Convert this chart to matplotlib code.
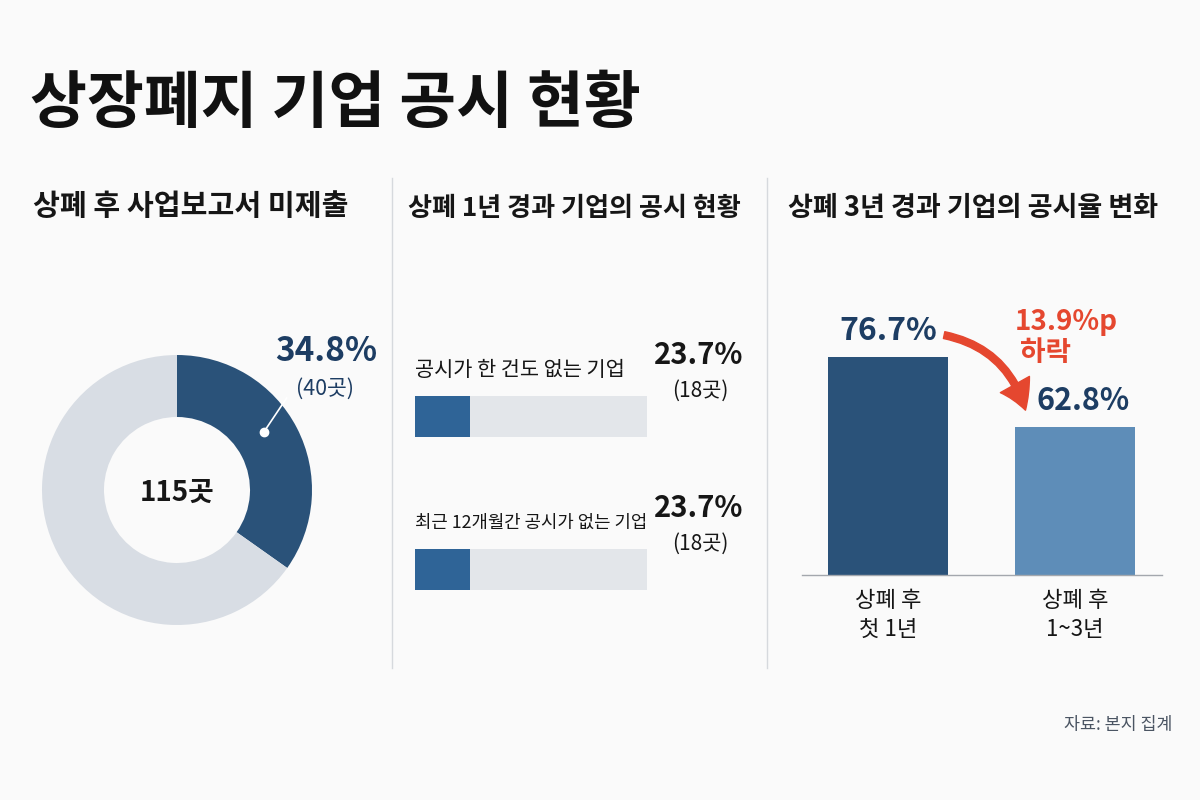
import matplotlib.pyplot as plt
from matplotlib.lines import Line2D
from matplotlib.patches import FancyArrowPatch
import numpy as np

plt.rcParams['font.family'] = ['Noto Sans CJK KR', 'DejaVu Sans']

W, H = 1200, 800
BG = '#FAFAFA'
NAVY = '#2A5279'
NAVY_TXT = '#1D3D63'
BLUE = '#2F6497'
LIGHT_BLUE = '#5E8DB8'
TRACK = '#E3E6EA'
GREY_RING = '#D8DDE4'
RED = '#E5472F'
INK = '#161616'

# --- data ---
total_firms = 115
unfiled_share = 34.8
unfiled_count = 40

progress_labels = ['공시가 한 건도 없는 기업', '최근 12개월간 공시가 없는 기업']
progress_share = [23.7, 23.7]
progress_count = [18, 18]

period_labels = ['상폐 후\n첫 1년', '상폐 후\n1~3년']
disclosure_rate = [76.7, 62.8]

fig = plt.figure(figsize=(12, 8), dpi=100, facecolor=BG)


def px_axes(left, top, width, height):
    ax = fig.add_axes([left / W, 1 - (top + height) / H, width / W, height / H])
    ax.set_facecolor('none')
    return ax


def ftext(x, y, s, **kw):
    return fig.text(x / W, 1 - y / H, s, **kw)


# titles
ftext(30, 103, '상장폐지 기업 공시 현황', fontsize=44.5, fontweight='bold', color='#111111', va='center')
ftext(33, 206, '상폐 후 사업보고서 미제출', fontsize=21, fontweight='bold', color=INK, va='center')
ftext(408, 208, '상폐 1년 경과 기업의 공시 현황', fontsize=18.8, fontweight='bold', color=INK, va='center')
ftext(788, 208, '상폐 3년 경과 기업의 공시율 변화', fontsize=19.5, fontweight='bold', color=INK, va='center')

for xd in (392, 767):
    fig.add_artist(Line2D([xd / W, xd / W], [1 - 178 / H, 1 - 668 / H],
                          transform=fig.transFigure, color='#D6D9DD', lw=1))

# --- panel 1: donut ---
R = 135
ax1 = px_axes(177 - 145, 490 - 145, 290, 290)
ax1.pie([unfiled_share, 100 - unfiled_share], colors=[NAVY, GREY_RING], startangle=90,
        counterclock=False, radius=1, wedgeprops=dict(width=62 / R, linewidth=0))
ax1.set_xlim(-145 / R, 145 / R)
ax1.set_ylim(-145 / R, 145 / R)
ax1.set_aspect('equal')
ax1.axis('off')
ax1.text(0, -0.02, f'{total_firms}곳', ha='center', va='center', fontsize=20,
         fontweight='bold', color=INK)

mid = np.deg2rad(90 - unfiled_share * 3.6 * 0.45)
dot = (0.77 * np.cos(mid), 0.77 * np.sin(mid))
end_ang = np.deg2rad(40)
end = (1.06 * np.cos(end_ang), 1.06 * np.sin(end_ang))
ax1.plot([dot[0], end[0]], [dot[1], end[1]], color='white', lw=1.2)
ax1.plot(*dot, 'o', color='white', ms=6)

ftext(326, 352, f'{unfiled_share}%', fontsize=24, fontweight='bold', color=NAVY_TXT,
      ha='center', va='center')
ftext(325, 389, f'({unfiled_count}곳)', fontsize=15.5, color=NAVY_TXT, ha='center', va='center')

# --- panel 2: progress bars ---
track_tops = [396, 549]
for i, top in enumerate(track_tops):
    ax = px_axes(415, top, 232, 41)
    ax.barh(0, 100, height=1, color=TRACK)
    ax.barh(0, progress_share[i], height=1, color=BLUE)
    ax.set_xlim(0, 100)
    ax.set_ylim(-0.5, 0.5)
    ax.axis('off')
    ftext(415, top - 26, progress_labels[i], fontsize=15 if i == 0 else 12.8,
          color=INK, va='center')
    ftext(743, top - 41, f'{progress_share[i]}%', fontsize=21, fontweight='bold',
          color=INK, ha='right', va='center')
    ftext(700, top - 5, f'({progress_count[i]}곳)', fontsize=15, color=INK,
          ha='center', va='center')

# --- panel 3: bar chart ---
ax3 = px_axes(802, 290, 360, 285)
x = np.arange(len(disclosure_rate))
ax3.bar(x, disclosure_rate, width=0.64, color=[NAVY, LIGHT_BLUE])
ax3.set_xlim(-0.46, 1.465)
ax3.set_ylim(33.4, 33.4 + 285 / 5.04)
for s in ('top', 'right', 'left'):
    ax3.spines[s].set_visible(False)
ax3.spines['bottom'].set_color('#A3A7AD')
ax3.spines['bottom'].set_linewidth(1)
ax3.set_yticks([])
ax3.set_xticks(x)
ax3.set_xticklabels(period_labels, fontsize=16, color=INK, linespacing=1.35)
ax3.tick_params(axis='x', length=0, pad=10)
label_shift = [0, 6]
for i, v in enumerate(disclosure_rate):
    ax3.annotate(f'{v}%', (i, v), xytext=(label_shift[i], 7), textcoords='offset points',
                 ha='center', va='bottom', fontsize=23 if i == 0 else 22,
                 fontweight='bold', color=NAVY_TXT)

drop = disclosure_rate[0] - disclosure_rate[1]
arrow = FancyArrowPatch((0.30, disclosure_rate[0] + 4.3), (0.735, disclosure_rate[1] + 3.3),
                        connectionstyle='arc3,rad=-0.3',
                        arrowstyle='simple,head_length=1.0,head_width=1.2,tail_width=0.25',
                        mutation_scale=20, color=RED, shrinkA=0, shrinkB=0)
ax3.add_patch(arrow)
ftext(1015, 322, f'{drop:.1f}%p', fontsize=20, fontweight='bold', color=RED, va='center')
ftext(1020, 353, '하락', fontsize=20, fontweight='bold', color=RED, va='center')

ftext(1172, 725, '자료: 본지 집계', fontsize=12.5, color='#4B5563', ha='right', va='center')

fig.savefig('out.png', dpi=100, facecolor=BG)
